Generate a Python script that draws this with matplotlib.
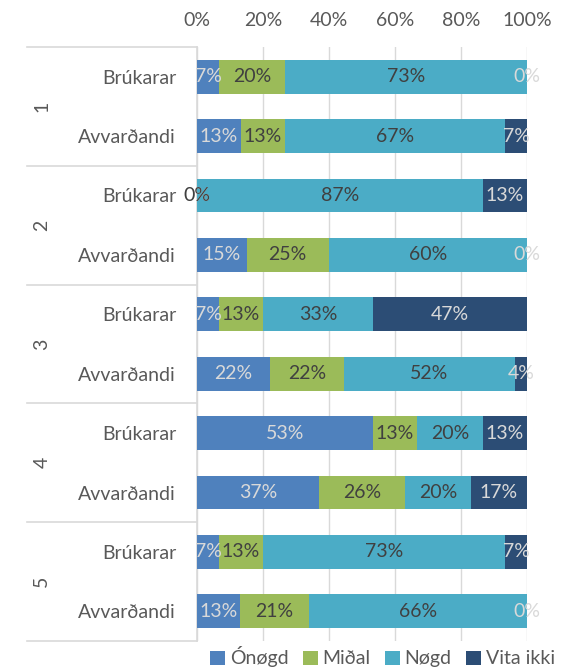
import numpy as np
import matplotlib
matplotlib.use("Agg")
import matplotlib.pyplot as plt
import matplotlib.transforms as mtrans

plt.rcParams['font.family'] = ['Lato', 'DejaVu Sans']

# data (percent)
groups = ['1', '2', '3', '4', '5']
rows = ['Brúkarar', 'Avvarðandi']
series = ['Ónøgd', 'Miðal', 'Nøgd', 'Vita ikki']
onogd = [6.7, 13.3, 0, 15, 6.7, 22.2, 53.3, 37, 6.7, 13]
midal = [20.0, 13.3, 0, 25, 13.3, 22.2, 13.3, 26, 13.3, 21]
nogd = [73.3, 66.7, 86.7, 60, 33.3, 51.9, 20.0, 20, 73.3, 66]
vita = [0, 6.7, 13.3, 0, 46.7, 3.7, 13.3, 17, 6.7, 0]

colors = ['#4F81BD', '#9BBB59', '#4BACC6', '#2C4D75']
lab_colors = ['#D9D9D9', '#404040', '#404040', '#D9D9D9']
grey = '#595959'
line_c = '#D9D9D9'
fs = 14

fig = plt.figure(figsize=(5.66, 6.69), dpi=100)
ax = fig.add_axes([197/566, 1-641/669, 330/566, 594/669])

y = np.arange(len(onogd))
left = np.zeros(len(y))
for vals, c, lc, name in zip([onogd, midal, nogd, vita], colors, lab_colors, series):
    vals = np.array(vals, dtype=float)
    ax.barh(y, vals, left=left, height=0.57, color=c, label=name, zorder=3)
    for yi, l, v in zip(y, left, vals):
        ax.text(l + v/2, yi, f'{round(v):.0f}%', ha='center', va='center',
                color=lc, fontsize=fs, zorder=4)
    left += vals

ax.set_xlim(0, 100)
ax.set_ylim(len(y) - 0.5, -0.5)
ax.xaxis.tick_top()
ax.set_xticks([0, 20, 40, 60, 80, 100])
ax.set_xticklabels([f'{t}%' for t in [0, 20, 40, 60, 80, 100]])
ax.tick_params(axis='x', length=0, pad=13, labelsize=fs, labelcolor=grey)
ax.set_yticks(y)
ax.set_yticklabels(rows * len(groups))
ax.tick_params(axis='y', length=0, pad=15, labelsize=fs, labelcolor=grey)
ax.grid(axis='x', color=line_c, linewidth=1, zorder=0)
for s in ['top', 'right', 'bottom']:
    ax.spines[s].set_visible(False)
ax.spines['left'].set_color(line_c)
ax.spines['left'].set_linewidth(1.2)

# category block on the left
tr = mtrans.blended_transform_factory(ax.transAxes, ax.transData)
for b in np.arange(-0.5, len(y), 2):
    ax.plot([-0.515, 0], [b, b], transform=tr, color=line_c, lw=1.2, clip_on=False)
for i, g in enumerate(groups):
    ax.text(-0.47, 2*i + 0.5, g, transform=tr, rotation=90, ha='center',
            va='center', fontsize=fs, color=grey)

fig.legend(loc='center', bbox_to_anchor=(0.676, 0.018), ncol=4, frameon=False,
           handlelength=0.75, handleheight=0.75, handletextpad=0.25,
           columnspacing=0.75, fontsize=fs, labelcolor=grey)

fig.savefig('out.png', dpi=100)
